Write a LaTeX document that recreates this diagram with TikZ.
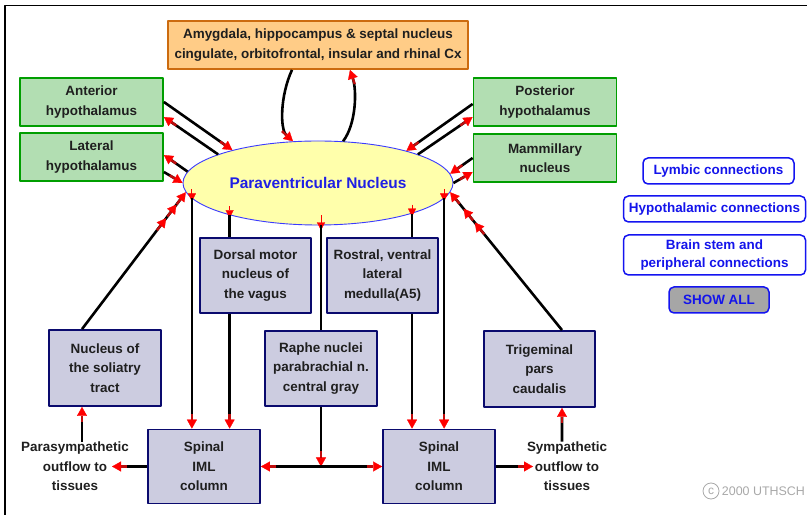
\documentclass[tikz,border=0pt]{standalone}
\usepackage{fontspec}
\setmainfont{Liberation Sans}
\usetikzlibrary{arrows.meta,shapes.geometric,decorations.markings,positioning}
\definecolor{hypofill}{rgb}{0.70,0.87,0.70}
\definecolor{hypoline}{rgb}{0.0,0.62,0.0}
\definecolor{limbfill}{rgb}{1.0,0.80,0.53}
\definecolor{limbline}{rgb}{0.80,0.42,0.06}
\definecolor{stemfill}{rgb}{0.80,0.80,0.88}
\definecolor{stemline}{rgb}{0.04,0.04,0.43}
\definecolor{pvnfill}{rgb}{1.0,1.0,0.67}
\definecolor{pvnline}{rgb}{0.23,0.23,1.0}
\definecolor{pvntext}{rgb}{0.12,0.12,0.90}
\definecolor{btnline}{rgb}{0.08,0.08,0.94}
\definecolor{btntext}{rgb}{0.08,0.08,0.92}
\definecolor{btngrey}{rgb}{0.65,0.65,0.65}
\definecolor{boxtext}{rgb}{0.12,0.12,0.12}
\definecolor{copygrey}{rgb}{0.66,0.66,0.66}
\definecolor{stemred}{rgb}{0.75,0.05,0.05}
\begin{document}
\begin{tikzpicture}[>=latex,line join=bevel,
  redtip/.tip={Rectangle[color=stemred,length=6bp,width=2.4bp,line width=0bp,sep=0bp] Triangle[color=red,length=9bp,width=10bp,line width=0.3bp,sep=0bp]},
  smalltip/.tip={Triangle[color=red,length=8bp,width=8bp,line width=0.3bp]},
  boxfont/.style={font=\fontsize{13.5}{19.5}\selectfont\bfseries,align=center,inner sep=0pt},
  hypobox/.style={boxfont,text=boxtext,draw=hypoline,fill=hypofill,line width=1.8bp,minimum width=143bp,minimum height=48bp},
  limbbox/.style={boxfont,text=boxtext,draw=limbline,fill=limbfill,line width=1.8bp,minimum width=300bp,minimum height=48bp},
  stembox/.style={boxfont,text=boxtext,draw=stemline,fill=stemfill,line width=1.8bp,minimum width=112bp,minimum height=75bp},
  pvnshape/.style={ellipse,draw=pvnline,fill=pvnfill,line width=0.9bp,minimum width=270bp,minimum height=84bp,inner sep=0pt,text=pvntext,font=\fontsize{15.5}{18}\selectfont\bfseries},
  sidetext/.style={boxfont,text=boxtext},
  btnbox/.style={font=\fontsize{13.5}{18}\selectfont\bfseries,align=center,inner sep=0pt,text=btntext,draw=btnline,fill=white,line width=1.5bp,rounded corners=5bp,minimum height=26bp},
  wire/.style={line width=2.6bp,-redtip},
  bothwire/.style={line width=2.6bp,redtip-redtip},
  bare/.style={line width=2.6bp},
  stub/.style={red,line width=0.8bp,-smalltip},
  tipsat/.style 2 args={postaction={decorate},decoration={markings,
    mark=at position #1 with {\arrow{redtip}},
    mark=at position #2 with {\arrow{redtip}}}},
]
  \useasboundingbox (0bp,0bp) rectangle (807bp,515bp);
  \pgfsetlinewidth{1bp}
%%
\pgfsetcolor{black}
  \draw[line width=1.4bp] (5bp,0bp) -- (5bp,509.5bp) -- (807bp,509.5bp);
  % Node: amyg
  \node[limbbox] (amyg) at (318bp,470bp) {Amygdala, hippocampus \& septal nucleus\\cingulate, orbitofrontal, insular and rhinal Cx};
  % Node: ant
  \node[hypobox] (ant) at (91.5bp,413bp) {Anterior\\hypothalamus};
  % Node: lat
  \node[hypobox] (lat) at (91.5bp,358bp) {Lateral\\hypothalamus};
  % Node: post
  \node[hypobox] (post) at (545bp,413bp) {Posterior\\hypothalamus};
  % Node: mam
  \node[hypobox] (mam) at (545bp,357bp) {Mammillary\\nucleus};
  % Node: pvn
  \node[pvnshape] (pvn) at (318bp,332bp) {Paraventricular Nucleus};
  % Node: dmv
  \node[stembox,minimum width=111bp] (dmv) at (255.5bp,239.5bp) {Dorsal motor\\nucleus of\\the vagus};
  % Node: rvlm
  \node[stembox,minimum width=111bp] (rvlm) at (382.5bp,239.5bp) {Rostral, ventral\\lateral\\medulla(A5)};
  % Node: nts
  \node[stembox,minimum height=76bp] (nts) at (105bp,147bp) {Nucleus of\\the soliatry\\tract};
  % Node: raphe
  \node[stembox] (raphe) at (321bp,146.5bp) {Raphe nuclei\\parabrachial n.\\central gray};
  % Node: trig
  \node[stembox,minimum width=111bp,minimum height=76bp] (trig) at (539.5bp,146bp) {Trigeminal\\pars\\caudalis};
  % Node: imlL
  \node[stembox,minimum height=74bp] (imlL) at (204bp,48.5bp) {Spinal\\IML\\column};
  % Node: imlR
  \node[stembox,minimum height=74bp] (imlR) at (439bp,48.5bp) {Spinal\\IML\\column};
  % Node: para
  \node[sidetext] (para) at (75bp,48.5bp) {Parasympathetic\\outflow to\\tissues};
  % Node: symp
  \node[sidetext] (symp) at (567bp,48.5bp) {Sympathetic\\outflow to\\tissues};
  % Node: buttons
  \node[btnbox,minimum width=151bp] (btnlimb) at (718.5bp,344bp) {Lymbic connections};
  \node[btnbox,minimum width=182bp] (btnhypo) at (714.5bp,306bp) {Hypothalamic connections};
  \node[btnbox,minimum width=182bp,minimum height=40bp] (btnstem) at (714.5bp,260bp) {Brain stem and\\peripheral connections};
  \node[btnbox,fill=btngrey,minimum width=100bp] (btnall) at (719bp,215bp) {SHOW ALL};
  % Node: copyright
  \node[circle,draw=copygrey,line width=0.8bp,text=copygrey,inner sep=0.5bp,minimum size=16bp,font=\fontsize{12}{14}\selectfont] (copyc) at (711bp,24bp) {c};
  \node[right=2bp of copyc,text=copygrey,inner sep=0pt,font=\fontsize{12.5}{14}\selectfont] (copyt) {2000 UTHSCH};
%
  % Edge: amyg -> pvn
  \draw[wire] ([xshift=-26bp]amyg.south) .. controls +(-12bp,-26bp) and +(-13bp,12bp) .. (pvn.121);
  % Edge: pvn -> amyg
  \draw[wire] (pvn.59) .. controls +(13bp,17bp) and +(7bp,-21bp) .. ([xshift=32bp]amyg.south);
  % Edge: ant -> pvn
  \draw[wire] (ant.east) -- (pvn.159);
  % Edge: pvn -> ant
  \draw[wire] (pvn.164) -- ([yshift=-15bp]ant.east);
  % Edge: pvn -> lat
  \draw[wire] (pvn.175) -- ([yshift=2bp]lat.east);
  % Edge: lat -> pvn
  \draw[wire] ([yshift=-15bp]lat.east) -- (pvn.west);
  % Edge: post -> pvn
  \draw[wire] ([yshift=-2bp]post.west) -- (pvn.20);
  % Edge: pvn -> post
  \draw[wire] (pvn.16) -- ([yshift=-15bp]post.west);
  % Edge: mam -> pvn
  \draw[wire] (mam.west) -- (pvn.4);
  % Edge: pvn -> mam
  \draw[wire] (pvn.east) -- ([yshift=-14bp]mam.west);
  % Edge: nts -> pvn
  \draw[wire,tipsat={0.81}{0.91}] ([xshift=-23bp]nts.north) -- (pvn.184);
  % Edge: trig -> pvn
  \draw[wire,tipsat={0.78}{0.88}] ([xshift=22.5bp]trig.north) -- (pvn.356);
  % Edge: pvn -> imlL
  \coordinate (dropL) at (pvn.187);
  \draw[stub] ([yshift=9bp]dropL) -- ([yshift=-3bp]dropL);
  \draw[wire] (dropL) -- (dropL |- imlL.north);
  % Edge: pvn -> dmv -> imlL
  \coordinate (dropDMV) at (pvn.200);
  \draw[stub] ([yshift=9bp]dropDMV) -- ([yshift=-3bp]dropDMV);
  \draw[bare] (dropDMV) -- (dropDMV |- dmv.north);
  \draw[wire] (dropDMV |- dmv.south) -- (dropDMV |- imlL.north);
  % Edge: pvn -> raphe -> iml
  \coordinate (dropRaphe) at (pvn.south -| raphe.north);
  \draw[stub] ([yshift=10bp]dropRaphe) -- ([yshift=-5bp]dropRaphe);
  \draw[bare] (dropRaphe) -- (raphe.north);
  \draw[wire] (raphe.south) -- (raphe.south |- imlL.east);
  \draw[bothwire] (imlL.east) -- (imlR.west);
  % Edge: pvn -> rvlm -> imlR
  \coordinate (dropRVLM) at (pvn.342);
  \draw[stub] ([yshift=9bp]dropRVLM) -- ([yshift=-3bp]dropRVLM);
  \draw[bare] (dropRVLM) -- (dropRVLM |- rvlm.north);
  \draw[wire] (dropRVLM |- rvlm.south) -- (dropRVLM |- imlR.north);
  % Edge: pvn -> imlR
  \coordinate (dropR) at (pvn.353);
  \draw[stub] ([yshift=9bp]dropR) -- ([yshift=-3bp]dropR);
  \draw[wire] (dropR) -- (dropR |- imlR.north);
  % Edge: imlL -> para, para -> nts
  \draw[wire] (imlL.west) -- ([xshift=37bp]para.center);
  \draw[wire] ([xshift=7bp]para.north) -- ([xshift=-23bp]nts.south);
  % Edge: imlR -> symp, symp -> trig
  \draw[wire] (imlR.east) -- ([xshift=-34bp]symp.center);
  \draw[wire] ([xshift=-5bp]symp.north) -- ([xshift=22.5bp]trig.south);
%
\end{tikzpicture}
\end{document}
